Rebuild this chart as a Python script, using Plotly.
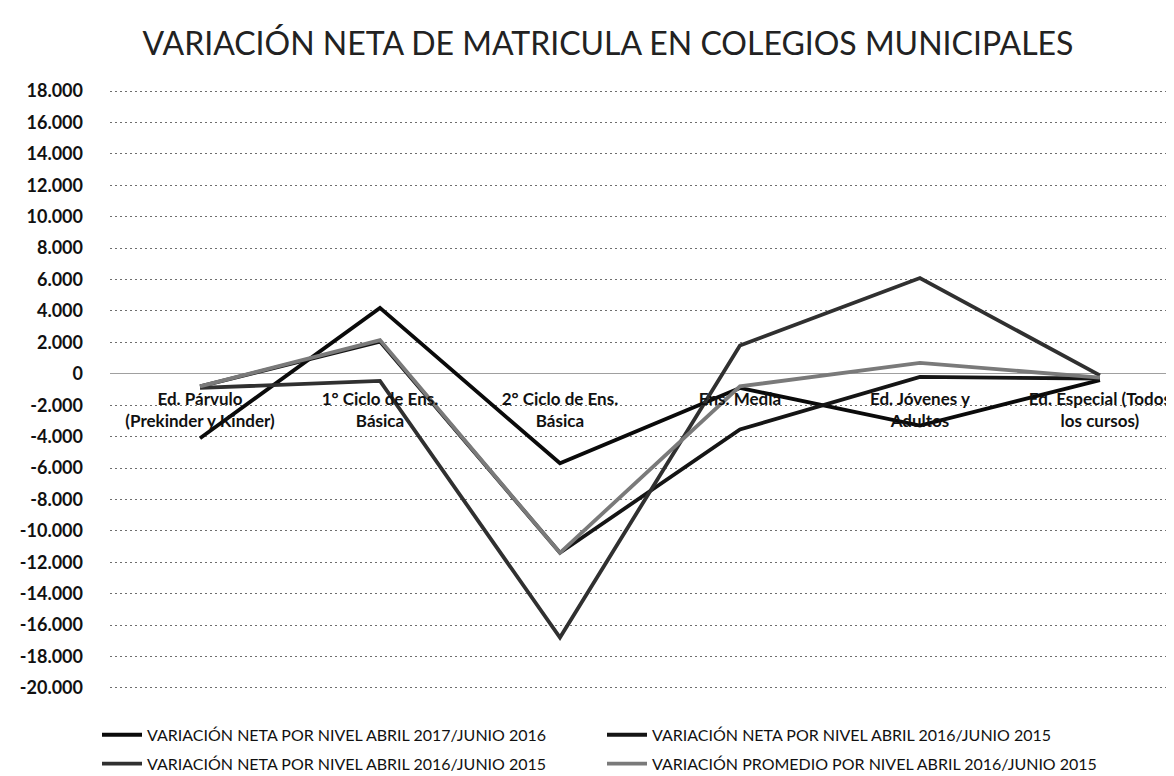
import plotly.graph_objects as go

categories = [
    "Ed. Párvulo<br>(Prekinder y Kinder)",
    "1° Ciclo de Ens.<br>Básica",
    "2° Ciclo de Ens.<br>Básica",
    "Ens. Media",
    "Ed. Jóvenes y<br>Adultos",
    "Ed. Especial (Todos<br>los cursos)",
]

serie_2017_2016 = [-4100, 4200, -5700, -900, -3300, -400]
serie_2016_2015_a = [-800, 2050, -11400, -3550, -200, -300]
serie_2016_2015_b = [-900, -450, -16800, 1800, 6100, -100]
serie_promedio = [-800, 2150, -11400, -800, 700, -250]

series_names = [
    "VARIACIÓN NETA POR NIVEL ABRIL 2017/JUNIO 2016",
    "VARIACIÓN NETA POR NIVEL ABRIL 2016/JUNIO 2015",
    "VARIACIÓN NETA POR NIVEL ABRIL 2016/JUNIO 2015",
    "VARIACIÓN PROMEDIO POR NIVEL ABRIL 2016/JUNIO 2015",
]
series_colors = ["#0a0a0a", "#151515", "#303030", "#7a7a7a"]
series_legends = ["legend", "legend2", "legend3", "legend4"]

y_tickvals = list(range(-20000, 18001, 2000))
y_ticktext = ["-20.000", "-18.000", "-16.000", "-14.000", "-12.000", "-10.000",
              "-8.000", "-6.000", "-4.000", "-2.000", "0", "2.000", "4.000",
              "6.000", "8.000", "10.000", "12.000", "14.000", "16.000", "18.000"]

title_text = "VARIACIÓN NETA DE MATRICULA EN COLEGIOS MUNICIPALES"

fig = go.Figure()
all_series = [serie_2017_2016, serie_2016_2015_a, serie_2016_2015_b, serie_promedio]
for vals, name, col, lg in zip(all_series, series_names, series_colors, series_legends):
    fig.add_trace(go.Scatter(
        x=categories, y=vals, mode="lines", name=name, legend=lg,
        line=dict(color=col, width=3.8),
    ))

ymin, ymax = -20000, 18000
pad = 200
W, H = 1174, 776
plot_left = 102
top_px, bot_px = 83, 680          # pixel rows of 18.000 and -20.000
px_per_unit = (bot_px - top_px) / (ymax - ymin)
pad_px = pad * px_per_unit
plot_top, plot_bot = top_px - pad_px, bot_px + pad_px
ph = plot_bot - plot_top
pw = W - plot_left

legend_font = dict(size=16, family="Lato, 'Open Sans', sans-serif", color="#111")


def legend_at(px_x, px_y):
    return dict(orientation="h", x=(px_x - plot_left) / pw, xanchor="left",
                y=-(px_y - plot_bot) / ph, yanchor="middle",
                itemwidth=40, font=legend_font, bgcolor="rgba(0,0,0,0)")


col1_x, col2_x = 89, 594
row1_y, row2_y = 727, 756

fig.update_layout(
    width=W, height=H,
    paper_bgcolor="white", plot_bgcolor="white",
    margin=dict(l=plot_left, r=0, t=plot_top, b=H - plot_bot),
    font=dict(family="Lato, 'Open Sans', sans-serif", color="#111"),
    title=dict(text=title_text, x=600 / W, xref="container", xanchor="center",
               y=1 - 36 / H, yref="container", yanchor="middle",
               font=dict(size=32, family="Lato, 'Open Sans', sans-serif", color="#222")),
    showlegend=True,
    legend=legend_at(col1_x, row1_y),
    legend2=legend_at(col2_x, row1_y),
    legend3=legend_at(col1_x, row2_y),
    legend4=legend_at(col2_x, row2_y),
    xaxis=dict(
        type="category", range=[-0.5, 5.456],
        anchor="free", position=(0 - (ymin - pad)) / (ymax - ymin + 2 * pad),
        showgrid=False, showline=False, zeroline=False, ticks="",
        tickfont=dict(size=17, family="Lato, 'Open Sans', sans-serif", color="#111", weight="bold"),
        ticklabelstandoff=13,
    ),
    yaxis=dict(
        range=[ymin - pad, ymax + pad], tickvals=y_tickvals, ticktext=y_ticktext,
        showgrid=True, gridcolor="#6e6e6e", gridwidth=1, griddash="2px,3px",
        zeroline=True, zerolinecolor="#a0a0a0", zerolinewidth=1,
        showline=False, ticks="",
        tickfont=dict(size=18, family="Lato, 'Open Sans', sans-serif", color="#111", weight="bold"),
        ticklabelstandoff=26,
    ),
)

fig.write_html("out.html")
